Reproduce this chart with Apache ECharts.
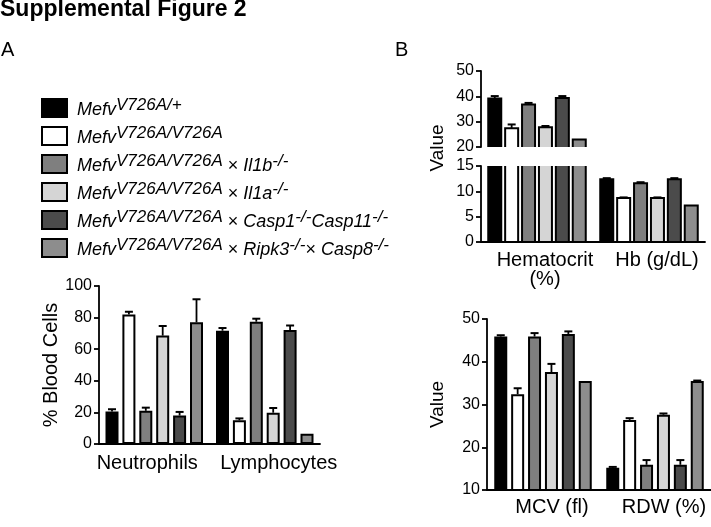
<!DOCTYPE html>
<html><head><meta charset="utf-8">
<script src="https://cdn.jsdelivr.net/npm/echarts@6/dist/echarts.min.js"></script>
<style>html,body{margin:0;padding:0;background:#fff}#c{width:711px;height:527px}</style>
</head><body><div id="c"></div>
<script>
// ---------- data ----------
const genotypes = [
  'MefvV726A/+',
  'MefvV726A/V726A',
  'MefvV726A/V726A x Il1b-/-',
  'MefvV726A/V726A x Il1a-/-',
  'MefvV726A/V726A x Casp1-/-Casp11-/-',
  'MefvV726A/V726A x Ripk3-/- x Casp8-/-'
];
// legend text parts: i = italic, s = superscript, n = normal
const legendParts = [
  [['i','Mefv'],['s','V726A/+']],
  [['i','Mefv'],['s','V726A/V726A']],
  [['i','Mefv'],['s','V726A/V726A'],['n',' × '],['i','Il1b'],['s','-/-']],
  [['i','Mefv'],['s','V726A/V726A'],['n',' × '],['i','Il1a'],['s','-/-']],
  [['i','Mefv'],['s','V726A/V726A'],['n',' × '],['i','Casp1'],['s','-/-'],['i','Casp11'],['s','-/-']],
  [['i','Mefv'],['s','V726A/V726A'],['n',' × '],['i','Ripk3'],['s','-/-'],['n','× '],['i','Casp8'],['s','-/-']]
];
const colors = ['#000000','#ffffff','#7f7f7f','#d5d5d5','#4b4b4b','#8d8d8d'];

const categoriesA = ['Neutrophils','Lymphocytes'];
const neutrophils    = [20.5, 82.0, 21.0, 68.6, 18.0, 77.0];
const neutrophilsErr = [1.5, 1.7, 2.0, 6.1, 2.3, 14.6];
const lymphocytes    = [71.7, 15.0, 77.4, 19.8, 72.2, 6.5];
const lymphocytesErr = [1.7, 1.2, 1.9, 3.0, 2.8, 0];
const ticksA = [0, 20, 40, 60, 80, 100];

const categoriesB = ['Hematocrit\n(%)', 'Hb (g/dL)'];
const hematocrit    = [39.1, 27.4, 36.8, 27.8, 39.3, 23.0];
const hematocritErr = [1.0, 1.5, 0.6, 0.5, 0.8, 0];
const hb    = [12.4, 8.7, 11.6, 8.7, 12.4, 7.2];
const hbErr = [0.2, 0.1, 0.2, 0.1, 0.2, 0];
const ticksBTop = [20, 30, 40, 50];
const ticksBBottom = [0, 5, 10, 15];

const categoriesC = ['MCV (fl)', 'RDW (%)'];
const mcv    = [45.9, 32.4, 45.9, 37.6, 46.5, 35.5];
const mcvErr = [0.3, 1.4, 0.8, 1.9, 0.6, 0];
const rdw    = [15.2, 26.4, 15.9, 27.6, 15.9, 35.5];
const rdwErr = [0.2, 0.4, 1.1, 0.3, 1.1, 0.1];
const ticksC = [10, 20, 30, 40, 50];

// ---------- helpers ----------
const FONT = '"Liberation Sans", Arial, Helvetica, sans-serif';
const BAR_W = 13, BAR_GAP = 0.3, N = genotypes.length, BORDER = 2;
function barOffset(k) {
  const total = N * BAR_W + (N - 1) * BAR_W * BAR_GAP;
  return -total / 2 + k * BAR_W * (1 + BAR_GAP) + BAR_W / 2;
}
function errLines(x, yTop, yCap) {
  return [
    {type: 'line', shape: {x1: x, y1: yTop, x2: x, y2: yCap}, style: {stroke: '#000', lineWidth: 1.8}},
    {type: 'line', shape: {x1: x - 4, y1: yCap, x2: x + 4, y2: yCap}, style: {stroke: '#000', lineWidth: 2}}
  ];
}
function errRender(k) {
  return function (params, api) {
    const j = api.value(0), v = api.value(1), e = api.value(2);
    if (!e) return null;
    const p0 = api.coord([j, v]), p1 = api.coord([j, v + e]);
    const x = p0[0] + barOffset(k);
    return {type: 'group', children: errLines(x, p0[1], p1[1])};
  };
}
function barErrRender(k) {
  return function (params, api) {
    const j = api.value(0), v = api.value(1), e = api.value(2);
    const p0 = api.coord([j, 0]), p1 = api.coord([j, v]);
    const x = p0[0] + barOffset(k);
    const children = [{
      type: 'rect',
      shape: {x: x - BAR_W / 2, y: p1[1], width: BAR_W, height: p0[1] - p1[1]},
      style: {fill: colors[k], stroke: '#000', lineWidth: BORDER}
    }];
    if (e) children.push(...errLines(x, p1[1], api.coord([j, v + e])[1]));
    return {type: 'group', children: children};
  };
}
function richText(parts) {
  return parts.map(p => '{' + p[0] + '|' + p[1] + '}').join('');
}

const axisLineStyle = {lineStyle: {color: '#000', width: 1.8}};
const catLabel = {color: '#000', fontSize: 20, fontFamily: FONT, margin: 8, interval: 0};
function catAxis(gridIndex, cats, labelExtra, extra) {
  return Object.assign({
    type: 'category', gridIndex: gridIndex, data: cats,
    axisLine: axisLineStyle, axisTick: {show: false},
    axisLabel: Object.assign({}, catLabel, labelExtra || {})
  }, extra || {});
}
function valAxis(gridIndex, ticks, extra) {
  return Object.assign({
    type: 'value', gridIndex: gridIndex,
    min: ticks[0], max: ticks[ticks.length - 1], interval: ticks[1] - ticks[0],
    axisLine: {show: true, lineStyle: {color: '#000', width: 1.8}},
    axisTick: {show: true, length: 5, lineStyle: {color: '#000', width: 1.8}},
    axisLabel: {color: '#000', fontSize: 16, fontFamily: FONT, margin: 7},
    splitLine: {show: false}
  }, extra || {});
}

// ---------- series ----------
const series = [];
genotypes.forEach((g, k) => {
  series.push({
    type: 'bar', name: g, xAxisIndex: 0, yAxisIndex: 0,
    data: [neutrophils[k], lymphocytes[k]],
    barWidth: BAR_W, barGap: (BAR_GAP * 100) + '%',
    itemStyle: {color: colors[k], borderColor: '#000', borderWidth: BORDER},
    silent: true
  });
});
genotypes.forEach((g, k) => {
  series.push({
    type: 'bar', name: g, xAxisIndex: 3, yAxisIndex: 3,
    data: [mcv[k], rdw[k]],
    barWidth: BAR_W, barGap: (BAR_GAP * 100) + '%',
    itemStyle: {color: colors[k], borderColor: '#000', borderWidth: BORDER},
    silent: true
  });
});
genotypes.forEach((g, k) => {
  series.push({
    type: 'custom', name: g, xAxisIndex: 0, yAxisIndex: 0, silent: true, z: 5,
    data: [[0, neutrophils[k], neutrophilsErr[k]], [1, lymphocytes[k], lymphocytesErr[k]]],
    renderItem: errRender(k)
  });
  series.push({
    type: 'custom', name: g, xAxisIndex: 3, yAxisIndex: 3, silent: true, z: 5,
    data: [[0, mcv[k], mcvErr[k]], [1, rdw[k], rdwErr[k]]],
    renderItem: errRender(k)
  });
});
// Panel B (broken axis): top and bottom segments, clipped to their grids
[1, 2].forEach(gi => {
  genotypes.forEach((g, k) => {
    series.push({
      type: 'custom', name: g, xAxisIndex: gi, yAxisIndex: gi, silent: true, clip: true,
      itemStyle: {color: colors[k]},
      data: [[0, hematocrit[k], hematocritErr[k]], [1, hb[k], hbErr[k]]],
      renderItem: barErrRender(k)
    });
  });
});

const chart = echarts.init(document.getElementById('c'), null, {renderer: 'canvas'});
chart.setOption({
  animation: false,
  backgroundColor: '#fff',
  textStyle: {fontFamily: FONT},
  grid: [
    {left: 99, top: 286, width: 221, height: 158},
    {left: 481, top: 71, width: 224, height: 76},
    {left: 481, top: 166, width: 224, height: 76},
    {left: 487, top: 319, width: 224, height: 171}
  ],
  xAxis: [
    catAxis(0, categoriesA, {
      margin: 9,
      formatter: function (v, i) { return '{c' + i + '|' + v + '}'; },
      rich: {
        c0: {fontSize: 20, fontFamily: FONT, color: '#000', padding: [0, 14, 0, 0]},
        c1: {fontSize: 20, fontFamily: FONT, color: '#000', padding: [0, 0, 0, 28]}
      }
    }),
    catAxis(1, categoriesB, {}, {show: false}),
    catAxis(2, categoriesB, {margin: 9, lineHeight: 19, padding: [0, 0, 0, 16]}),
    catAxis(3, categoriesC, {margin: 7, padding: [0, 0, 0, 18]})
  ],
  yAxis: [
    valAxis(0, ticksA, {name: '% Blood Cells', nameLocation: 'middle', nameGap: 36,
      nameTextStyle: {color: '#000', fontSize: 20, fontFamily: FONT}}),
    valAxis(1, ticksBTop),
    valAxis(2, ticksBBottom),
    valAxis(3, ticksC, {name: 'Value', nameLocation: 'middle', nameGap: 40,
      nameTextStyle: {color: '#000', fontSize: 19, fontFamily: FONT}})
  ],
  legend: {
    data: genotypes,
    orient: 'vertical', left: 36, top: 92,
    icon: 'rect', itemWidth: 25, itemHeight: 18, itemGap: 6,
    selectedMode: false,
    itemStyle: {borderColor: '#000', borderWidth: 2},
    formatter: function (name) { return richText(legendParts[genotypes.indexOf(name)]); },
    textStyle: {
      padding: [0, 0, 0, 5],
      rich: {
        i: {fontStyle: 'italic', fontSize: 18, fontFamily: FONT, color: '#000', lineHeight: 22, verticalAlign: 'bottom'},
        s: {fontStyle: 'italic', fontSize: 17, fontFamily: FONT, color: '#000', lineHeight: 15, verticalAlign: 'top'},
        n: {fontSize: 18, fontFamily: FONT, color: '#000', lineHeight: 22, verticalAlign: 'bottom'}
      }
    }
  },
  graphic: [
    {type: 'text', left: 0, top: -2, style: {text: 'Supplemental Figure 2', font: 'bold 23px ' + FONT, fill: '#000'}},
    {type: 'text', left: 1, top: 40, style: {text: 'A', font: '20px ' + FONT, fill: '#000'}},
    {type: 'text', left: 395, top: 40, style: {text: 'B', font: '20px ' + FONT, fill: '#000'}},
    {type: 'text', x: 438, y: 148, rotation: Math.PI / 2,
      style: {text: 'Value', font: '19px ' + FONT, fill: '#000', align: 'center', verticalAlign: 'middle'}}
  ],
  series: series
});
</script>
</body></html>
